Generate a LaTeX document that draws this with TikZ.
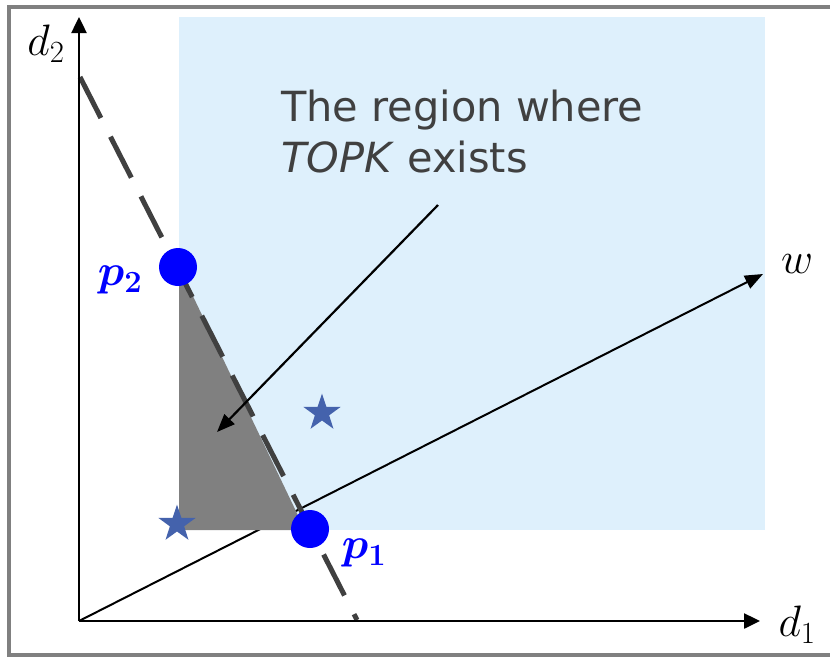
\RequirePackage{fix-cm}
\documentclass[tikz,border=0pt]{standalone}
\usepackage{amsmath,amssymb,bm}
\usepackage{fontspec}
\newfontfamily\notefont{DejaVu Sans}
\usepackage{tikz}
\usetikzlibrary{positioning,arrows.meta,shapes.geometric}
\usepackage{xcolor}
\definecolor{regionblue}{RGB}{222,240,252}
\definecolor{notegray}{RGB}{64,64,64}
\definecolor{starblue}{RGB}{68,98,172}
\tikzset{
  axis/.style={-{Triangle[length=16pt,width=15pt]}, line width=2.5pt},
  arrow/.style={-{Triangle[length=18pt,width=14pt]}, line width=2.2pt},
  boundary/.style={line width=5pt, draw=notegray, dash pattern=on 46pt off 21pt},
  pointdot/.style={circle, fill=blue, minimum size=38pt, inner sep=0pt},
  starmark/.style={star, star points=5, star point ratio=2.6,
    fill=starblue, minimum size=39pt, inner sep=0pt},
  plabel/.style={text=blue, font=\fontsize{44}{44}\selectfont, inner sep=0pt},
  axlabel/.style={font=\fontsize{44}{44}\selectfont, inner sep=0pt},
  note/.style={text=notegray, align=left, inner sep=0pt,
    font=\notefont\fontsize{41.5}{51}\selectfont}
}
\begin{document}
\begin{tikzpicture}[x=1pt, y=-1pt]
  \useasboundingbox (0,0) rectangle (830,657);
  \draw[line width=3.5pt, gray] (9,7) rectangle (850,655);

  % region and points
  \fill[regionblue] (179,17) rectangle (765,530);
  \coordinate (O) at (79,621);
  \coordinate (ytip) at (79,17);
  \coordinate (xtip) at (760,621);
  \coordinate (wtip) at (763,274);
  \coordinate (ltop) at (80,77);
  \coordinate (lbot) at (357,620);
  \draw[arrow, line width=2pt] (O) -- (wtip);
  \fill[gray] (179,267) -- (179,530) -- (305,530) -- cycle;
  \draw[boundary] (ltop) -- (lbot);

  \draw[axis] (O) -- (ytip);
  \draw[axis] (O) -- (xtip);

  \node[pointdot] (p2) at (178,267) {};
  \node[pointdot] (p1) at (310,529) {};
  \node[starmark] (s1) at (322,413) {};
  \node[starmark] (s2) at (177,524) {};

  \node[plabel] (p2lab) at (120,280) {$\bm{p_2}$};
  \node[plabel] (p1lab) at (364,553) {$\bm{p_1}$};
  \node[axlabel] (d2lab) at (46,44) {$d_2$};
  \node[axlabel] (d1lab) at (797,625) {$d_1$};
  \node[axlabel] (wlab) at (797,264) {$w$};

  \node[note, anchor=north west] (note) at (281,90) {The region where\\\textit{TOPK} exists};
  \coordinate (ntail) at (438,205);
  \coordinate (nhead) at (217,432);
  \draw[arrow] (ntail) -- (nhead);
\end{tikzpicture}
\end{document}
